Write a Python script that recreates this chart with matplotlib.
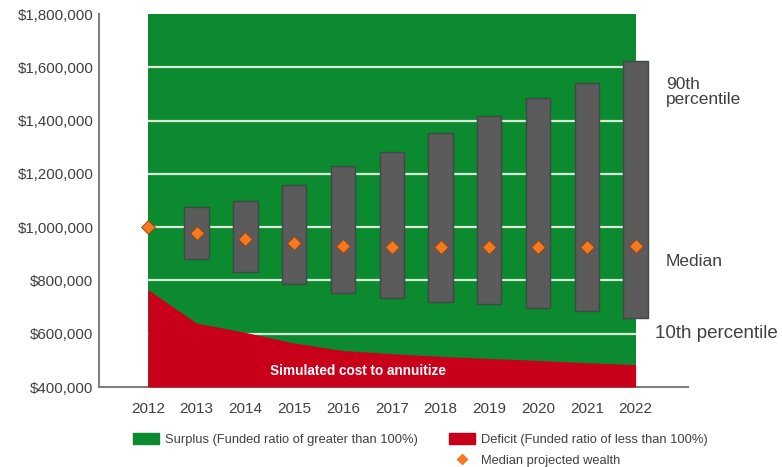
import matplotlib
matplotlib.use('Agg')
import matplotlib.pyplot as plt
from matplotlib.patches import Patch
from matplotlib.lines import Line2D
from matplotlib.ticker import FuncFormatter

plt.rcParams['font.family'] = ['Liberation Sans', 'DejaVu Sans']

# data
years = [2012, 2013, 2014, 2015, 2016, 2017, 2018, 2019, 2020, 2021, 2022]
deficit = [766000, 640000, 605000, 565000, 537000, 525000, 515000, 507000, 500000, 491000, 484000]
bar_years = years[1:]
p10 = [879000, 830000, 787000, 754000, 733000, 720000, 712000, 695000, 685000, 660000]
p90 = [1077000, 1099000, 1159000, 1229000, 1282000, 1352000, 1418000, 1484000, 1542000, 1624000]
median = [1000000, 977000, 954000, 942000, 930000, 927000, 927000, 925000, 927000, 927000, 930000]
yticks = [400000, 600000, 800000, 1000000, 1200000, 1400000, 1600000, 1800000]

green = '#0b8a30'
red = '#c8001a'
grey = '#5b5b5b'
orange = '#f47920'
txt = '#404040'

fig = plt.figure(figsize=(7.82, 4.67), dpi=100)
ax = fig.add_axes([0.1266, 0.1713, 0.753, 0.7987])

# surplus / deficit areas
ax.fill_between(years, 400000, 1800000, color=green, lw=0, zorder=1)
ax.hlines(yticks[1:-1], years[0], years[-1], color='#d4ead4', lw=1.6, zorder=2)
ax.fill_between(years, 400000, deficit, color=red, lw=0, zorder=3)

# 10th-90th percentile bars
hts = [b - a for a, b in zip(p10, p90)]
ax.bar(bar_years, hts, bottom=p10, width=0.5, color=grey, edgecolor='#3e4a44',
       lw=1, zorder=4)
ax.plot(years, median, ls='none', marker='D', ms=7.5, color=orange,
        mec='#8a4010', mew=0.6, zorder=5, clip_on=False)

ax.text(2016.3, 460000, 'Simulated cost to annuitize', color='white',
        fontsize=9.8, fontweight='bold', ha='center', va='center', zorder=6)

# right-hand labels
ax.text(2022.62, 1508000, '90th\npercentile', fontsize=12.5, color=txt,
        va='center', ha='left', linespacing=1.0, clip_on=False)
ax.text(2022.62, 870000, 'Median', fontsize=12.5, color=txt, va='center', clip_on=False)
ax.text(2022.4, 600000, '10th percentile', fontsize=13.5, color=txt, va='center', clip_on=False)

ax.set_xlim(2011, 2023.07)
ax.set_ylim(400000, 1800000)
ax.set_xticks(years)
ax.set_yticks(yticks)
ax.yaxis.set_major_formatter(FuncFormatter(lambda v, p: '${:,.0f}'.format(v)))
ax.tick_params(length=0, colors=txt)
ax.tick_params(axis='y', labelsize=10.8, pad=4)
ax.tick_params(axis='x', labelsize=11, pad=11)
for s in ['top', 'right']:
    ax.spines[s].set_visible(False)
for s in ['left', 'bottom']:
    ax.spines[s].set_color('#7f7f7f')
    ax.spines[s].set_linewidth(1.5)

handles = [Patch(color=green), Line2D([], [], ls='none'),
           Patch(color=red),
           Line2D([], [], ls='none', marker='D', ms=5.5, color=orange)]
labels = ['Surplus (Funded ratio of greater than 100%)', '',
          'Deficit (Funded ratio of less than 100%)', 'Median projected wealth']
fig.legend(handles, labels, ncol=2, loc='lower left', bbox_to_anchor=(0.155, -0.025),
           frameon=False, fontsize=9.3, labelcolor=txt, handlelength=2.0,
           handleheight=0.95, handletextpad=0.5, columnspacing=2.4, labelspacing=0.6)

fig.savefig('out.png', dpi=100)
